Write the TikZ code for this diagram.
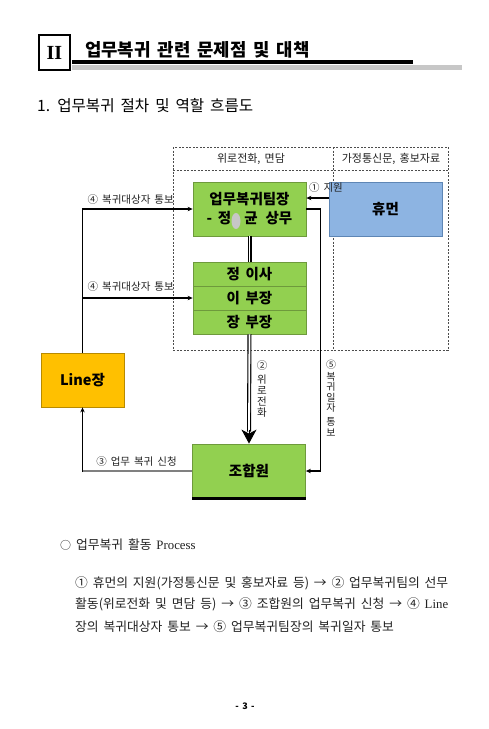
\documentclass[tikz,border=0pt]{standalone}
\usepackage{fontspec}
\setmainfont{Noto Sans CJK KR}[WordSpace=1.7]
\newfontfamily\serif{Liberation Serif}
\usetikzlibrary{arrows.meta,calc}
\definecolor{boxgreen}{HTML}{92D050}
\definecolor{greenedge}{HTML}{6E9A3C}
\definecolor{boxblue}{HTML}{8DB4E2}
\definecolor{blueedge}{HTML}{5E86B5}
\definecolor{boxorange}{HTML}{FFC000}
\definecolor{orangeedge}{HTML}{B88A00}
\definecolor{txt}{HTML}{222222}
\tikzset{
  gbox/.style={draw=greenedge, fill=boxgreen, line width=0.8pt, minimum width=113pt, minimum height=54pt, inner sep=0pt, font=\fontsize{14.5}{18}\selectfont\bfseries, align=center},
  rowbox/.style={draw=greenedge, fill=boxgreen, line width=0.8pt, minimum width=113pt, minimum height=24pt, inner sep=0pt, font=\fontsize{14.5}{16}\selectfont\bfseries},
  lbl/.style={font=\fontsize{10.5}{12}\selectfont, text=txt, inner sep=0pt},
  vlbl/.style={font=\fontsize{10.5}{11}\selectfont, text=txt, inner sep=0pt, align=center},
  arr/.style={draw=black, line width=1.1pt, -{Stealth[length=5pt,width=4.5pt]}},
  dsh/.style={draw=black!70, line width=0.6pt, dash pattern=on 2pt off 1.5pt},
  dbl/.style={draw=black, line width=1.1pt, double=white, double distance=1.8pt},
  para/.style={anchor=base west, inner sep=0pt, text=txt, font=\fontsize{12.8}{14}\selectfont},
}
\begin{document}
\begin{tikzpicture}[x=1pt,y=-1pt]
\useasboundingbox (0,0) rectangle (489,729);
\fill[white] (0,0) rectangle (489,729);

% header
\node[draw=black, line width=1.3pt, minimum width=31pt, minimum height=35pt, inner sep=0pt, font=\serif\fontsize{20}{20}\selectfont\bfseries] (roman) at (54.5,52.5) {II};
\fill[black] (72,60) rectangle (413,64);
\fill[black!22] (72,65) rectangle (462,70);
\node[anchor=base west, inner sep=0pt, font=\fontsize{17.8}{19}\selectfont\bfseries] (title) at (85,56) {업무복귀 관련 문제점 및 대책};
\node[anchor=base west, inner sep=0pt, font=\fontsize{15.6}{17}\selectfont] (sub) at (37,111) {1. 업무복귀 절차 및 역할 흐름도};

% dashed regions
\draw[dsh] (173,147) rectangle (448,350);
\draw[dsh] (173,170) -- (448,170);
\draw[dsh] (333,147) -- (333,350);
\node[lbl, font=\fontsize{11}{12}\selectfont] (h1) at (251,158.5) {위로전화, 면담};
\node[lbl, font=\fontsize{11}{12}\selectfont] (h2) at (391,158.5) {가정통신문, 홍보자료};

% boxes
\node[gbox] (b1) at (249.5,209) {업무복귀팀장\\[1pt]- 정\hspace{0.9em}균\, 상무};
\fill[black!22] (236,221) ellipse (4.5pt and 8pt);
\node[gbox, draw=blueedge, fill=boxblue] (hm) at (385.5,209) {휴먼};
\node[rowbox] (r1) at (249.5,274) {정 이사};
\node[rowbox] (r2) at (249.5,298) {이 부장};
\node[rowbox] (r3) at (249.5,322) {장 부장};
\node[gbox] (jo) at (249,471) {조합원};
\draw[line width=2.2pt] (jo.south west) -- (jo.south east);
\node[gbox, draw=orangeedge, fill=boxorange, minimum width=83pt] (ln) at (82.5,380) {Line장};

% connectors
\draw[arr] ([yshift=11pt]hm.west) -- ([yshift=11pt]b1.east);
\node[lbl] (l1) at (326,188) {① 지원};
\draw[dbl] (b1.south) -- (r1.north);
\draw[dbl] (r3.south) -- ([yshift=12pt]jo.north);
\draw[line width=1pt, -{Stealth[length=14pt,width=15pt,inset=4pt]}] ([yshift=14pt]jo.north) -- (jo.north);
\node[vlbl] (l2) at (262,389) {②\\[3pt]위\\로\\전\\화};
\draw[arr] (b1.east) -- ++(14,0) |- (jo.east);
\node[vlbl, font=\fontsize{10}{10.6}\selectfont] (l5) at (331,398) {⑤\\[1pt]복\\귀\\일\\자\\[3pt]통\\보};
\draw[arr] (ln.north) |- (b1.west);
\draw[arr] (ln.north |- r2.west) -- (r2.west);
\node[lbl, anchor=east] (l4a) at (174,199.5) {④ 복귀대상자 통보};
\node[lbl, anchor=east] (l4b) at (174,287) {④ 복귀대상자 통보};
\coordinate (c3) at (ln.south |- jo.west);
\draw[draw=black!50, line width=2.6pt] (jo.west) -- (c3);
\draw[arr] ([yshift=-1pt]c3) -- (ln.south);
\node[lbl] (l3) at (136.5,462) {③ 업무 복귀 신청};

% text below
\node[para] (p0) at (60,549) {{\fontsize{11}{12}\selectfont ○} 업무복귀 활동 {\serif Process}};
\node[para] (p1) at (75,587) {\makebox[373pt][s]{① 휴먼의 지원(가정통신문 및 홍보자료 등) → ② 업무복귀팀의 선무}};
\node[para] (p2) at (75,608.5) {\makebox[373pt][s]{활동(위로전화 및 면담 등) → ③ 조합원의 업무복귀 신청 → ④ {\serif Line}}};
\node[para] (p3) at (75,631) {장의 복귀대상자 통보 → ⑤ 업무복귀팀장의 복귀일자 통보};
\node[inner sep=0pt, font=\fontsize{9}{10}\selectfont\bfseries] (pg) at (245,706) {- 3 -};
\end{tikzpicture}
\end{document}
